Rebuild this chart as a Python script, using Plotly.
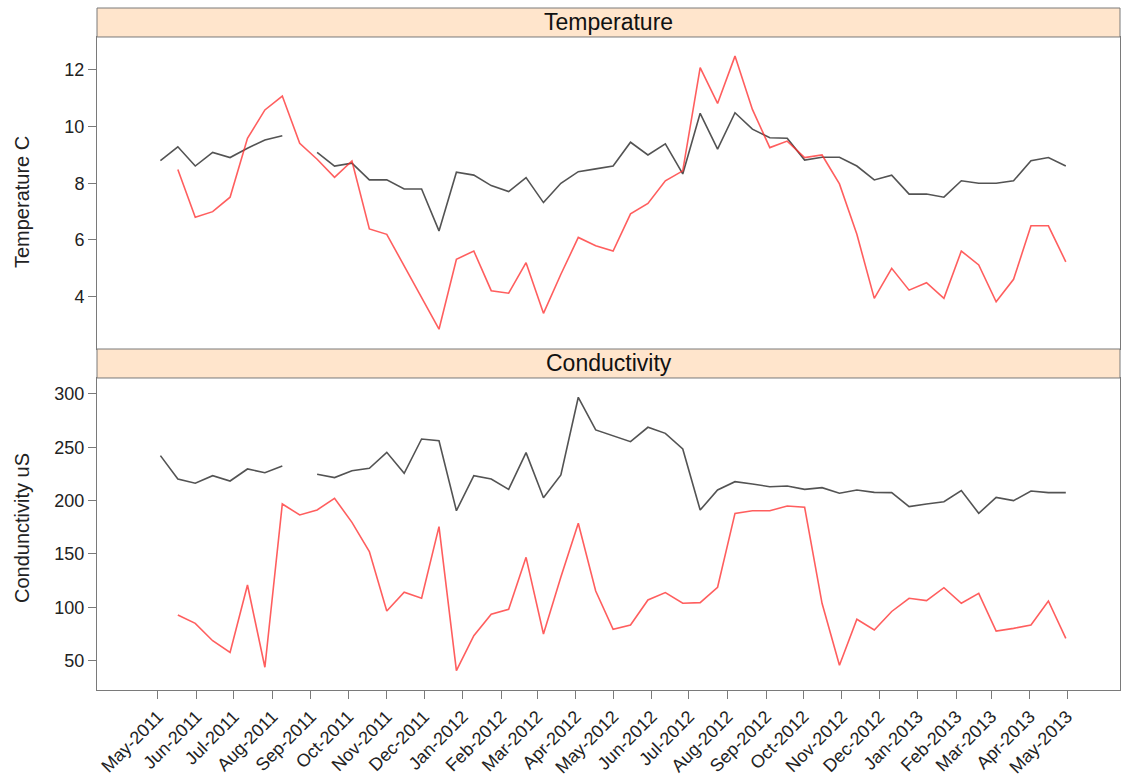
import pandas as pd
import plotly.graph_objects as go

# sampling dates (fortnightly)
dates = pd.date_range("2011-05-03", periods=53, freq="14D")

temp_black = [8.80, 9.29, 8.61, 9.09, 8.91, 9.24, 9.53, 9.68, None, 9.09, 8.61, 8.71, 8.12, 8.12,
              7.80, 7.80, 6.32, 8.39, 8.29, 7.92, 7.71, 8.20, 7.32, 8.00, 8.41, 8.51, 8.61, 9.45,
              9.00, 9.39, 8.33, 10.47, 9.21, 10.49, 9.91, 9.61, 9.59, 8.82, 8.92, 8.92, 8.61, 8.12,
              8.29, 7.62, 7.62, 7.51, 8.09, 8.00, 8.00, 8.09, 8.80, 8.91, 8.61]
temp_red = [None, 8.49, 6.80, 7.00, 7.51, 9.59, 10.59, 11.08, 9.41, 8.85, 8.21, 8.79, 6.39, 6.20,
            5.09, 3.96, 2.85, 5.32, 5.61, 4.21, 4.12, 5.20, 3.41, 4.79, 6.09, 5.80, 5.61, 6.92,
            7.29, 8.09, 8.44, 12.08, 10.82, 12.49, 10.61, 9.26, 9.49, 8.91, 9.00, 7.98, 6.20, 3.94,
            5.00, 4.23, 4.49, 3.94, 5.61, 5.12, 3.82, 4.61, 6.50, 6.50, 5.23]
cond_black = [242.2, 220.3, 216.3, 223.4, 218.4, 229.7, 226.2, 232.5, None, 224.7, 221.6, 228.1,
              230.3, 245.3, 225.6, 257.8, 256.2, 190.6, 223.4, 220.3, 210.6, 245.0, 202.8, 224.1,
              296.9, 266.3, 260.6, 255.3, 268.8, 263.1, 248.4, 191.2, 210.0, 217.8, 215.6, 213.1,
              213.8, 210.6, 212.2, 206.9, 210.0, 207.8, 207.5, 194.4, 196.9, 199.0, 209.4, 188.1,
              203.1, 200.0, 209.1, 207.5, 207.5]
cond_red = [None, 92.8, 85.0, 68.7, 57.8, 120.9, 43.8, 196.9, 186.6, 191.3, 202.2, 179.7, 152.2,
            96.6, 114.1, 108.5, 175.6, 40.6, 73.4, 93.5, 98.2, 146.9, 75.0, 128.4, 178.8, 115.3,
            79.4, 83.4, 106.9, 113.8, 103.8, 104.4, 118.8, 188.1, 190.6, 190.6, 195.0, 193.8,
            103.8, 45.7, 88.8, 78.8, 96.1, 108.5, 106.3, 118.4, 103.8, 113.1, 77.8, 80.3, 83.4,
            105.9, 70.9]

tick_dates = pd.date_range("2011-05-01", "2013-05-01", freq="MS")
tick_text = [d.strftime("%b-%Y") for d in tick_dates]

panel_titles = ["Temperature", "Conductivity"]
y_titles = ["Temperature C", "Condunctivity uS"]

BLACK = "rgba(40,40,40,0.8)"
RED = "rgba(255,40,40,0.75)"
FRAME = "#7a7a7a"
TXT = "#222222"
FONT = "Liberation Sans, Arial, sans-serif"

fig = go.Figure()
fig.add_trace(go.Scatter(x=dates, y=temp_black, mode="lines", line=dict(color=BLACK, width=1.6),
                         xaxis="x2", yaxis="y2", showlegend=False))
fig.add_trace(go.Scatter(x=dates, y=temp_red, mode="lines", line=dict(color=RED, width=1.6),
                         xaxis="x2", yaxis="y2", showlegend=False))
fig.add_trace(go.Scatter(x=dates, y=cond_black, mode="lines", line=dict(color=BLACK, width=1.6),
                         xaxis="x", yaxis="y", showlegend=False))
fig.add_trace(go.Scatter(x=dates, y=cond_red, mode="lines", line=dict(color=RED, width=1.6),
                         xaxis="x", yaxis="y", showlegend=False))

xrange = ["2011-03-13", "2013-06-12 14:00"]
top_dom = [0.5, 0.9575]
bot_dom = [0.0, 0.4575]

common_axis = dict(showgrid=False, zeroline=False, showline=True, linecolor=FRAME, linewidth=1,
                   mirror=True, ticks="outside", ticklen=8, tickcolor=FRAME, automargin=False,
                   tickfont=dict(family=FONT, size=18, color=TXT))

fig.update_layout(
    width=1122, height=778,
    margin=dict(l=97, r=2, t=8, b=88, autoexpand=False),
    paper_bgcolor="white", plot_bgcolor="white",
    font=dict(family=FONT, color=TXT),
    xaxis=dict(common_axis, type="date", range=xrange, domain=[0, 1], anchor="y",
               tickvals=list(tick_dates), ticktext=tick_text, tickangle=-45,
               tickfont=dict(family=FONT, size=18, color=TXT)),
    xaxis2=dict(common_axis, type="date", range=xrange, domain=[0, 1], anchor="y2",
                matches="x", ticks="", showticklabels=False),
    yaxis=dict(common_axis, range=[22.5, 315.0], domain=bot_dom, anchor="x",
               tickvals=[50, 100, 150, 200, 250, 300]),
    yaxis2=dict(common_axis, range=[2.152, 13.165], domain=top_dom, anchor="x2",
                tickvals=[4, 6, 8, 10, 12]),
)

# strips
for y0, y1, title in [(top_dom[1], 1.0, panel_titles[0]), (bot_dom[1], top_dom[0], panel_titles[1])]:
    fig.add_shape(type="rect", xref="paper", yref="paper", x0=0, x1=1, y0=y0, y1=y1,
                  fillcolor="#FFE5CC", line=dict(color=FRAME, width=1), layer="above")
    fig.add_annotation(text=title, xref="paper", yref="paper", x=0.5, y=(y0 + y1) / 2,
                       showarrow=False, xanchor="center", yanchor="middle",
                       font=dict(family=FONT, size=23, color="#111111"))

# y axis titles
for ypos, t in [(0.7155, y_titles[0]), (0.2375, y_titles[1])]:
    fig.add_annotation(text=t, xref="paper", yref="paper", x=-0.0733, y=ypos, textangle=-90,
                       showarrow=False, xanchor="center", yanchor="middle",
                       font=dict(family=FONT, size=20, color=TXT))

fig.write_html("out.html")
